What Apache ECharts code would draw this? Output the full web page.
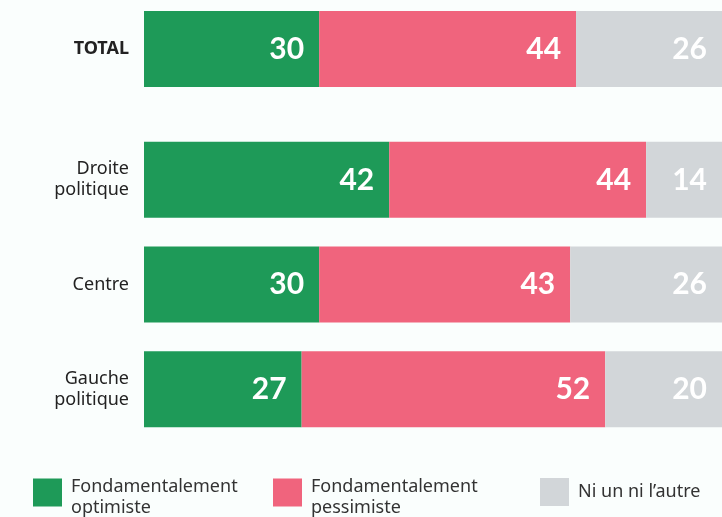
<!DOCTYPE html>
<html>
<head>
<meta charset="utf-8">
<script src="https://cdn.jsdelivr.net/npm/echarts@6/dist/echarts.min.js"></script>
<style>
  html, body { margin: 0; padding: 0; background: #fafefd; }
  #chart { width: 722px; height: 517px; }
</style>
</head>
<body>
<div id="chart"></div>
<script>
var myChart = echarts.init(document.getElementById('chart'));

// données
var categoriesTotal = ['TOTAL'];
var categories = ['Droite\npolitique', 'Centre', 'Gauche\npolitique'];
var seriesNames = ['Fondamentalement\noptimiste', 'Fondamentalement\npessimiste', 'Ni un ni l\u2019autre'];
var optimiste = [30, 42, 30, 27];     // TOTAL, Droite, Centre, Gauche
var pessimiste = [44, 44, 43, 52];
var niUnNiAutre = [26, 14, 26, 20];
var colors = ['#1e9a58', '#f0647d', '#d2d6d9'];

var values = [optimiste, pessimiste, niUnNiAutre];
var font = 'Lato, "Noto Sans", sans-serif';
var textFont = '"Noto Sans", sans-serif';

var series = [];
values.forEach(function (vals, i) {
    var label = {
        show: true,
        position: 'insideRight',
        distance: 15,
        color: '#ffffff',
        fontSize: 30,
        fontWeight: 'bold',
        fontFamily: font
    };
    // barre TOTAL
    series.push({
        name: seriesNames[i],
        type: 'bar',
        stack: 'total',
        xAxisIndex: 0,
        yAxisIndex: 0,
        barWidth: 76,
        itemStyle: { color: colors[i] },
        label: label,
        data: vals.slice(0, 1)
    });
    // barres par orientation politique
    series.push({
        name: seriesNames[i],
        type: 'bar',
        stack: 'groupes',
        xAxisIndex: 1,
        yAxisIndex: 1,
        barWidth: 76,
        itemStyle: { color: colors[i] },
        label: label,
        data: vals.slice(1)
    });
});

// carré de légende un peu remonté par rapport au texte sur deux lignes
var iconHigh = 'path://M0,0H29V28H0Z M0,37H0';

function legendFor(name, left, top, icon, h) {
    return {
        data: [name],
        left: left,
        top: top,
        padding: 0,
        itemWidth: 29,
        itemHeight: h,
        selectedMode: false,
        icon: icon,
        textStyle: {
            color: '#333333',
            fontSize: 18,
            lineHeight: 21,
            fontFamily: textFont,
            padding: [0, 0, 0, 4]
        }
    };
}

var axisLabelStyle = {
    color: '#222222',
    fontSize: 18,
    lineHeight: 21,
    fontFamily: textFont,
    margin: 15
};

var option = {
    backgroundColor: '#fafefd',
    animation: false,
    legend: [
        legendFor(seriesNames[0], 33, 476, iconHigh, 37),
        legendFor(seriesNames[1], 273, 476, iconHigh, 37),
        legendFor(seriesNames[2], 540, 478, 'rect', 28)
    ],
    grid: [
        { left: 144, right: 0, top: 11, height: 76 },
        { left: 144, right: 0, top: 127.5, height: 314 }
    ],
    xAxis: [
        { type: 'value', gridIndex: 0, min: 0, max: 99, show: false },
        { type: 'value', gridIndex: 1, min: 0, max: 99, show: false }
    ],
    yAxis: [
        {
            type: 'category', gridIndex: 0, inverse: true,
            data: [{ value: categoriesTotal[0], textStyle: { fontWeight: 'bold' } }],
            axisLine: { show: false }, axisTick: { show: false },
            axisLabel: axisLabelStyle
        },
        {
            type: 'category', gridIndex: 1, inverse: true,
            data: categories,
            axisLine: { show: false }, axisTick: { show: false },
            axisLabel: axisLabelStyle
        }
    ],
    series: series
};

myChart.setOption(option);
</script>
</body>
</html>
